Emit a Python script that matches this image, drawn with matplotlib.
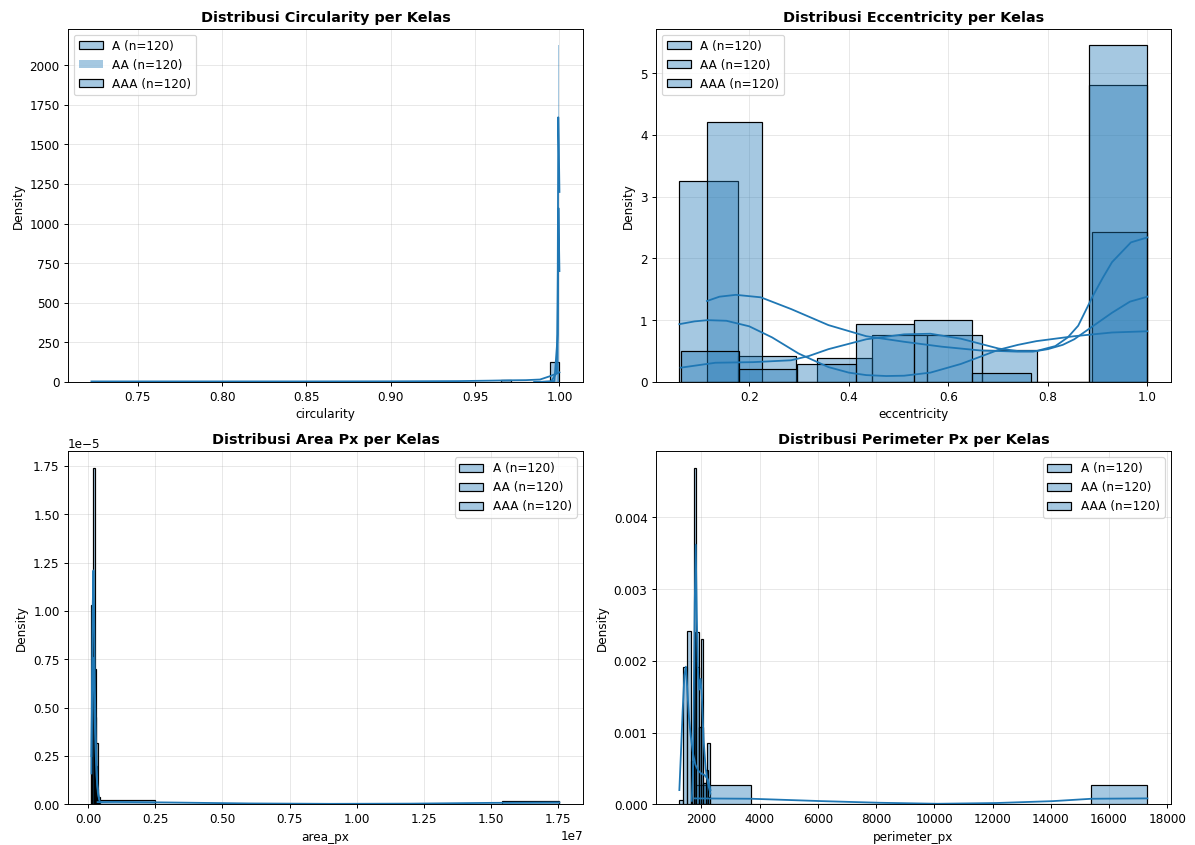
import numpy as np
import matplotlib.pyplot as plt
from matplotlib.patches import Patch
from matplotlib.colors import to_rgba

kelas = ['A', 'AA', 'AAA']
jumlah = [120, 120, 120]

# --- circularity (bin edges, density per bin, kde points) ---
circ_edges_A = [0.7225, 0.9656, 0.9715, 0.9945, 1.0]
circ_dens_A = [0.6, 12, 0.6, 126]
circ_edges_AA = [0.9994, 1.0]
circ_dens_AA = [2126]
circ_edges_AAA = [0.9988, 0.9994, 1.0]
circ_dens_AAA = [250, 1098]
circ_kde_x_A = [0.7225, 0.76, 0.80, 0.85, 0.90, 0.94, 0.96, 0.97, 0.98, 0.9885, 0.9944, 1.0]
circ_kde_y_A = [3, 3, 3, 3, 3.5, 5, 8, 10, 11, 15, 36, 60]
circ_kde_x_AA = [0.985, 0.995, 0.9985, 0.9990, 0.9993, 0.9996, 1.0]
circ_kde_y_AA = [0, 2, 60, 700, 1672, 1500, 1200]
circ_kde_x_AAA = [0.990, 0.997, 0.9990, 0.9994, 0.9997, 1.0]
circ_kde_y_AAA = [0, 5, 300, 1098, 900, 700]

# --- eccentricity ---
ecc_edges_A = [0.0595, 0.1771, 0.2946, 0.4122, 0.5297, 0.6473, 0.7649, 0.8824, 1.0]
ecc_dens_A = [3.26, 0.42, 0, 0, 0, 0, 0, 4.81]
ecc_edges_AA = [0.115, 0.2256, 0.3363, 0.4469, 0.5575, 0.6681, 0.7788, 0.8894, 1.0]
ecc_dens_AA = [4.21, 0, 0.38, 0.76, 0.76, 0.52, 0, 2.42]
ecc_edges_AAA = [0.062, 0.1793, 0.2965, 0.4138, 0.531, 0.6483, 0.7655, 0.8828, 1.0]
ecc_dens_AAA = [0.50, 0.21, 0.29, 0.93, 1.0, 0.15, 0, 5.45]
ecc_kde_x_A = [0.0595, 0.09, 0.1165, 0.154, 0.2, 0.246, 0.299, 0.359, 0.40, 0.435, 0.475, 0.511,
               0.564, 0.625, 0.665, 0.701, 0.74, 0.777, 0.853, 0.929, 1.0]
ecc_kde_y_A = [0.935, 0.98, 1.0, 0.99, 0.90, 0.72, 0.46, 0.24, 0.15, 0.11, 0.095, 0.10,
               0.15, 0.29, 0.41, 0.52, 0.60, 0.66, 0.74, 0.80, 0.82]
ecc_kde_x_AA = [0.115, 0.14, 0.173, 0.223, 0.284, 0.359, 0.435, 0.511, 0.587, 0.663, 0.739, 0.77,
                0.80, 0.83, 0.853, 0.89, 0.929, 0.965, 1.0]
ecc_kde_y_AA = [1.31, 1.38, 1.41, 1.37, 1.18, 0.92, 0.74, 0.65, 0.57, 0.51, 0.49, 0.49,
                0.53, 0.60, 0.69, 0.90, 1.12, 1.30, 1.38]
ecc_kde_x_AAA = [0.062, 0.132, 0.208, 0.284, 0.32, 0.359, 0.435, 0.511, 0.564, 0.625, 0.701, 0.74,
                 0.777, 0.815, 0.84, 0.861, 0.891, 0.91, 0.929, 0.967, 1.0]
ecc_kde_y_AAA = [0.23, 0.31, 0.32, 0.35, 0.42, 0.53, 0.69, 0.77, 0.78, 0.70, 0.54, 0.50,
                 0.50, 0.58, 0.72, 0.91, 1.40, 1.68, 1.94, 2.26, 2.34]

# --- area_px ---
area_edges_A = [110000, 172000, 234000, 296000, 358000, 420000]
area_dens_A = [1.03e-5, 1.74e-5, 0.70e-5, 0.32e-5, 0.04e-5]
area_edges_AA = [340000, 2490000, 4650000, 6800000, 8960000, 11110000, 13260000, 15420000, 17570000]
area_dens_AA = [0.022e-5, 0.001e-5, 0, 0, 0, 0, 0.0005e-5, 0.02e-5]
area_edges_AAA = [110000, 150000, 190000, 230000, 270000, 310000, 350000, 390000]
area_dens_AAA = [0.26e-5, 0.76e-5, 0.6e-5, 0.45e-5, 0.2e-5, 0.08e-5, 0.03e-5]
area_kde_x_A = [110000, 130000, 155000, 185000, 210000, 240000, 280000, 330000, 390000]
area_kde_y_A = [0.16e-5, 0.6e-5, 1.0e-5, 1.21e-5, 1.0e-5, 0.6e-5, 0.3e-5, 0.1e-5, 0.03e-5]
area_kde_x_AA = [340000, 1000000, 3000000, 6000000, 9000000, 12000000, 15000000, 17570000]
area_kde_y_AA = [0.012e-5, 0.013e-5, 0.01e-5, 0.005e-5, 0.003e-5, 0.004e-5, 0.008e-5, 0.01e-5]
area_kde_x_AAA = [110000, 135000, 160000, 190000, 220000, 260000, 300000, 350000, 410000]
area_kde_y_AAA = [0.25e-5, 0.55e-5, 0.76e-5, 0.7e-5, 0.5e-5, 0.3e-5, 0.15e-5, 0.06e-5, 0.02e-5]

# --- perimeter_px ---
per_edges_A = [1247, 1380, 1514, 1647, 1781, 1914, 2048, 2181, 2315]
per_dens_A = [0.06e-3, 1.92e-3, 2.42e-3, 0.6e-3, 2.4e-3, 1.08e-3, 0.3e-3, 0.85e-3]
per_edges_AA = [1775, 3718, 5660, 7603, 9546, 11489, 13432, 15374, 17317]
per_dens_AA = [0.27e-3, 0, 0, 0, 0, 0, 0, 0.27e-3]
per_edges_AAA = [1673, 1753, 1833, 1913, 1993, 2073, 2153, 2233, 2313]
per_dens_AAA = [0.6e-3, 4.69e-3, 1.92e-3, 1.08e-3, 2.3e-3, 0.3e-3, 0.48e-3, 0.1e-3]
per_kde_x_A = [1247, 1300, 1360, 1420, 1472, 1520, 1580, 1640, 1720, 1800, 1900, 2000, 2112, 2225, 2315]
per_kde_y_A = [0.2e-3, 0.7e-3, 1.3e-3, 1.8e-3, 1.92e-3, 1.6e-3, 1.2e-3, 0.95e-3, 0.7e-3, 0.55e-3, 0.47e-3, 0.43e-3, 0.41e-3, 0.35e-3, 0.2e-3]
per_kde_x_AA = [1775, 3720, 6140, 8124, 10108, 12093, 14077, 15400, 17317]
per_kde_y_AA = [0.084e-3, 0.079e-3, 0.046e-3, 0.023e-3, 0.009e-3, 0.019e-3, 0.046e-3, 0.079e-3, 0.084e-3]
per_kde_x_AAA = [1673, 1710, 1742, 1775, 1809, 1843, 1880, 1930, 1978, 2020, 2080, 2150, 2225, 2313]
per_kde_y_AAA = [0.05e-3, 0.4e-3, 1.5e-3, 2.8e-3, 3.62e-3, 2.7e-3, 1.9e-3, 1.6e-3, 1.75e-3, 1.5e-3, 0.9e-3, 0.5e-3, 0.3e-3, 0.15e-3]

warna = '#1f77b4'
isi = to_rgba(warna, 0.4)


def gambar(ax, edges, dens, kx, ky, lw_bar, lw_legend, judul, xlabel, loc):
    for e, d, x, y, lw in zip(edges, dens, kx, ky, lw_bar):
        e = np.asarray(e, dtype=float)
        ax.bar(e[:-1], d, width=np.diff(e), align='edge', facecolor=isi,
               edgecolor='black', linewidth=lw)
        ax.plot(x, y, color=warna, linewidth=1.5)
    handles = [Patch(facecolor=isi, edgecolor='black', linewidth=lw)
               for lw in lw_legend]
    labels = [f'{k} (n={n})' for k, n in zip(kelas, jumlah)]
    ax.legend(handles, labels, loc=loc)
    ax.set_title(judul, fontweight='bold')
    ax.set_xlabel(xlabel)
    ax.set_ylabel('Density')
    ax.grid(True, alpha=0.3)
    ax.set_axisbelow(True)


DPI = 86.4
fig, axes = plt.subplots(2, 2, figsize=(1195.4 / DPI, 845.4 / DPI), dpi=DPI)
fig.subplots_adjust(left=0.0569, right=0.9794, top=0.9657, bottom=0.048,
                    wspace=0.142, hspace=0.196)

gambar(axes[0, 0],
       [circ_edges_A, circ_edges_AA, circ_edges_AAA],
       [circ_dens_A, circ_dens_AA, circ_dens_AAA],
       [circ_kde_x_A, circ_kde_x_AA, circ_kde_x_AAA],
       [circ_kde_y_A, circ_kde_y_AA, circ_kde_y_AAA],
       [1.0, 0.0, 0.0], [1.0, 0.0, 1.0],
       'Distribusi Circularity per Kelas', 'circularity', 'upper left')

gambar(axes[0, 1],
       [ecc_edges_A, ecc_edges_AA, ecc_edges_AAA],
       [ecc_dens_A, ecc_dens_AA, ecc_dens_AAA],
       [ecc_kde_x_A, ecc_kde_x_AA, ecc_kde_x_AAA],
       [ecc_kde_y_A, ecc_kde_y_AA, ecc_kde_y_AAA],
       [1.0, 1.0, 1.0], [1.0, 1.0, 1.0],
       'Distribusi Eccentricity per Kelas', 'eccentricity', 'upper left')

gambar(axes[1, 0],
       [area_edges_A, area_edges_AA, area_edges_AAA],
       [area_dens_A, area_dens_AA, area_dens_AAA],
       [area_kde_x_A, area_kde_x_AA, area_kde_x_AAA],
       [area_kde_y_A, area_kde_y_AA, area_kde_y_AAA],
       [1.0, 1.0, 1.0], [1.0, 1.0, 1.0],
       'Distribusi Area Px per Kelas', 'area_px', 'upper right')

gambar(axes[1, 1],
       [per_edges_A, per_edges_AA, per_edges_AAA],
       [per_dens_A, per_dens_AA, per_dens_AAA],
       [per_kde_x_A, per_kde_x_AA, per_kde_x_AAA],
       [per_kde_y_A, per_kde_y_AA, per_kde_y_AAA],
       [1.0, 1.0, 1.0], [1.0, 1.0, 1.0],
       'Distribusi Perimeter Px per Kelas', 'perimeter_px', 'upper right')

fig.savefig('out.png', dpi=DPI)
